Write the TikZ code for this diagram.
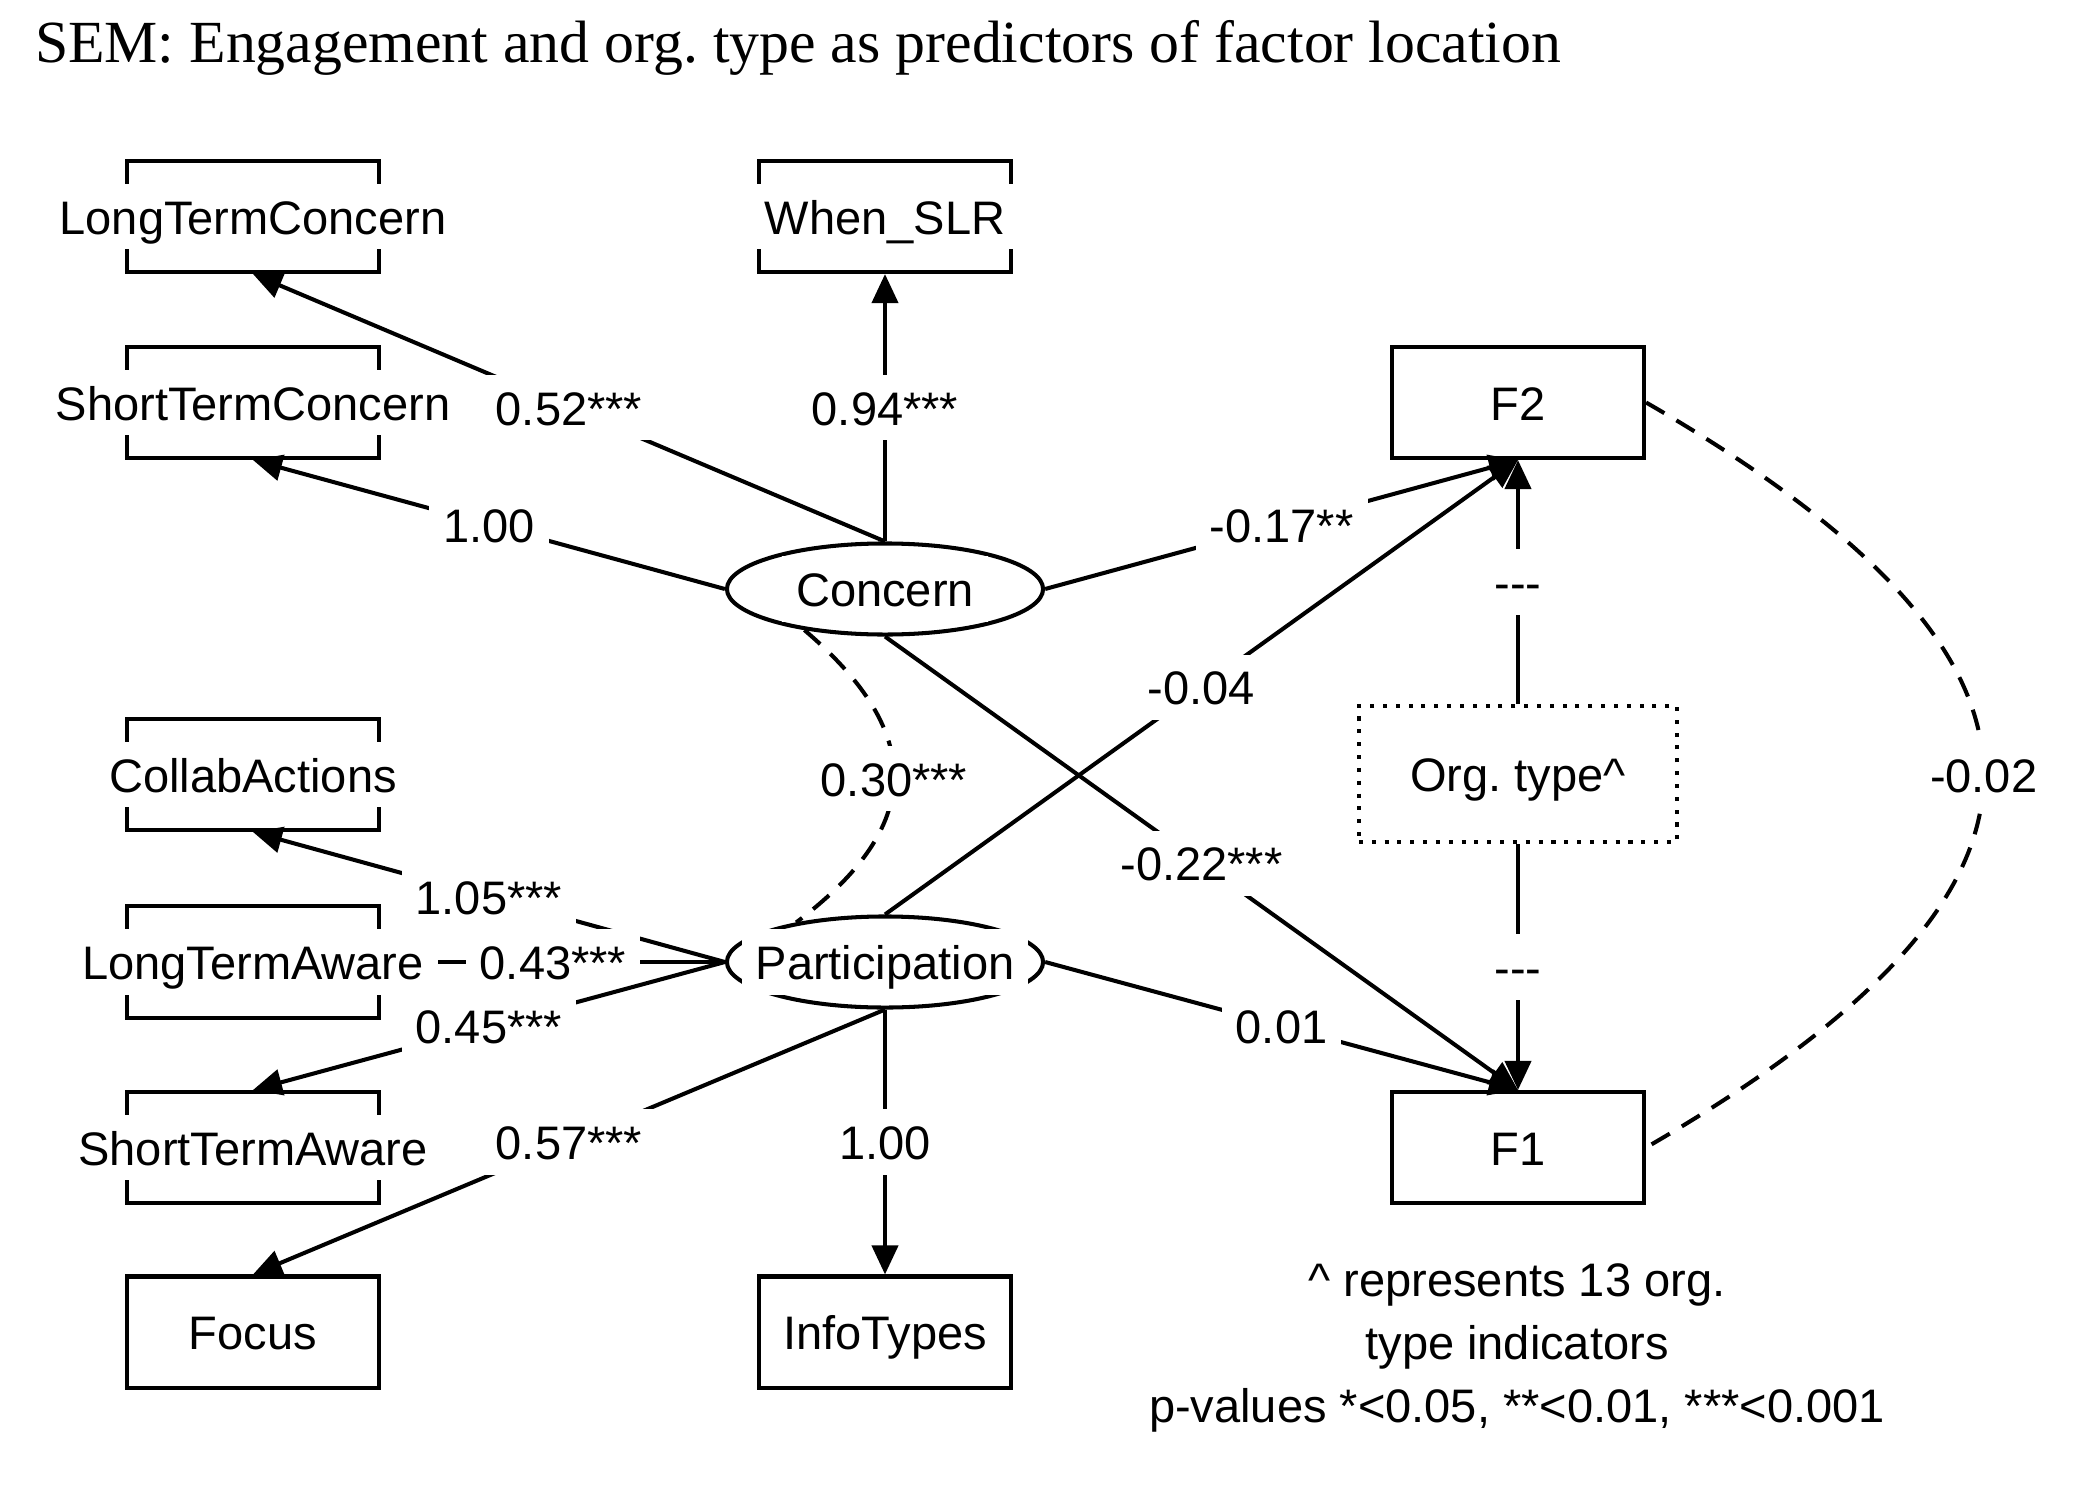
\documentclass[tikz,border=0pt]{standalone}
\usepackage{fontspec}
\newfontfamily\arialf{Liberation Sans}
\newfontfamily\timesf{Liberation Serif}
\usetikzlibrary{arrows.meta,shapes.geometric}
\frenchspacing
\begin{document}
\frenchspacing
\begin{tikzpicture}[x=0.01cm,y=-0.01cm,
  line width=1.15pt,
  obs/.style={draw, rectangle, minimum width=2.52cm, minimum height=1.11cm, inner sep=0pt},
  lat/.style={draw, ellipse, minimum width=3.16cm, minimum height=0.91cm, inner sep=0pt},
  orgbox/.style={draw, rectangle, dash pattern=on 1.15pt off 2.5pt, minimum width=3.18cm, minimum height=1.36cm, inner sep=0pt},
  txt/.style={fill=white, inner xsep=4pt, inner ysep=2.75pt, text height=11.5pt, text depth=1.5pt, font=\arialf\fontsize{13.37pt}{16pt}\selectfont},
  note/.style={inner sep=0pt, anchor=base, font=\arialf\fontsize{13.37pt}{16pt}\selectfont},
  reg/.style={-{Triangle[length=0.29cm,width=0.26cm]}},
  cov/.style={dash pattern=on 6pt off 4pt}
]
\useasboundingbox (0,0) rectangle (2100,1500);

% title
\node[anchor=base west, inner sep=0pt, font=\timesf\fontsize{17pt}{20pt}\selectfont] (title) at (33,63)
  {SEM: Engagement and org. type as predictors of factor location};

% shapes
\node[obs] (ltc) at (253,216.5) {};
\node[obs] (stc) at (253,402.5) {};
\node[obs] (col) at (253,774.5) {};
\node[obs] (lta) at (253,962) {};
\node[obs] (sta) at (253,1147.5) {};
\node[obs] (foc) at (253,1332) {};
\node[obs] (when) at (885,216.5) {};
\node[obs] (info) at (885,1332) {};
\node[obs] (f2) at (1518,402.5) {};
\node[obs] (f1) at (1518,1147.5) {};
\node[orgbox] (org) at (1518,774) {};
\node[lat] (conc) at (885,589) {};
\node[lat] (part) at (885,962) {};

% regressions / loadings
\draw[reg] (conc.north) -- node[txt] (l1) {0.52***} (ltc.south);
\draw[reg] (conc.west) -- node[txt] (l2) {1.00} (stc.south);
\draw[reg] (conc.north) -- node[txt] (l3) {0.94***} (when.south);
\draw[reg] (conc.east) -- node[txt] (l4) {-0.17**} (f2.south);
\draw[reg] (conc.south) -- node[txt] (l5) {-0.22***} (f1.north);
\draw[reg] (part.west) -- node[txt] (l6) {1.05***} (col.south);
\draw[reg] (part.west) -- node[txt] (l7) {0.43***} (lta.east);
\draw[reg] (part.west) -- node[txt] (l8) {0.45***} (sta.north);
\draw[reg] (part.south) -- node[txt] (l9) {0.57***} (foc.north);
\draw[reg] (part.south) -- node[txt] (l10) {1.00} (info.north);
\draw[reg] (part.north) -- node[txt] (l11) {-0.04} (f2.south);
\draw[reg] (part.east) -- node[txt] (l12) {0.01} (f1.north);
\draw[reg] (org.north) -- node[txt] (l13) {---} (f2.south);
\draw[reg] (org.south) -- node[txt] (l14) {---} (f1.north);

% covariances
\draw[cov] (conc.207) .. controls +(121,103) and +(129,-97) .. node[txt] (l15) {0.30***} (part.156);
\draw[cov] (f2.east) .. controls +(450,260) and +(450,-260) .. node[txt] (l16) {-0.02} (f1.east);

% node texts
\node[txt] (ltc-t) at (ltc) {LongTermConcern};
\node[txt] (stc-t) at (stc) {ShortTermConcern};
\node[txt] (col-t) at (col) {CollabActions};
\node[txt] (lta-t) at (lta) {LongTermAware};
\node[txt] (sta-t) at (sta) {ShortTermAware};
\node[txt] (foc-t) at (foc) {Focus};
\node[txt] (when-t) at (when) {When\_SLR};
\node[txt] (info-t) at (info) {InfoTypes};
\node[txt] (f2-t) at (f2) {F2};
\node[txt] (f1-t) at (f1) {F1};
\node[txt] (org-t) at (org) {Org. type\textasciicircum};
\node[txt] (conc-t) at (conc) {Concern};
\node[txt] (part-t) at (part) {Participation};

% notes
\node[note] (n1) at (1517,1296) {\textasciicircum\ represents 13 org.};
\node[note] (n2) at (1517,1359) {type indicators};
\node[note] (n3) at (1517,1422) {p-values *<0.05, **<0.01, ***<0.001};
\end{tikzpicture}
\end{document}
